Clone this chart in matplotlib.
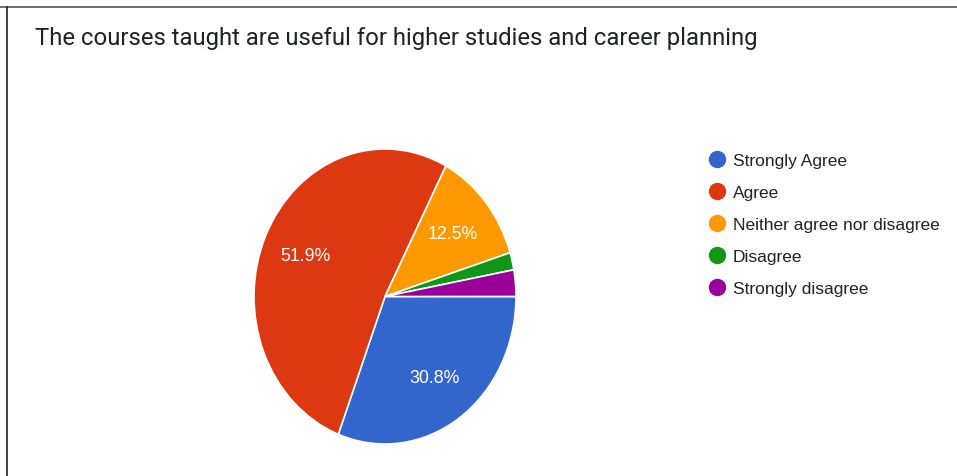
import matplotlib
matplotlib.use("Agg")
import matplotlib.pyplot as plt
from matplotlib.lines import Line2D

labels = ["Strongly Agree", "Agree", "Neither agree nor disagree", "Disagree", "Strongly disagree"]
shares = [30.8, 51.9, 12.5, 1.9, 2.9]
colors = ["#3366CC", "#DC3912", "#FF9900", "#109618", "#990099"]
title = "The courses taught are useful for higher studies and career planning"

W, H = 957, 477
fig = plt.figure(figsize=(W / 100, H / 100), dpi=100)

# pie is slightly squashed horizontally in the screenshot, so no equal aspect
ax = fig.add_axes([254 / W, 32 / H, 262 / W, 295 / H])
ax.pie(shares, colors=colors, startangle=0, counterclock=False,
       autopct=lambda p: f"{p:.1f}%" if p > 5 else "", pctdistance=0.67,
       wedgeprops=dict(edgecolor="white", linewidth=1.2),
       textprops=dict(color="white", fontsize=12.8, family="Liberation Sans"))
ax.set_aspect("auto")
ax.set_xlim(-1, 1)
ax.set_ylim(-1, 1)
ax.axis("off")

fig.text(35 / W, 1 - 38 / H, title, fontsize=17.2, family="Roboto", color="#202124",
         va="center", ha="left")

handles = [Line2D([], [], ls="none", marker="o", markersize=11.5, color=c) for c in colors]
fig.legend(handles, labels, loc="upper left", bbox_to_anchor=(707 / W, 1 - 154 / H),
           frameon=False, handletextpad=0.3, labelspacing=0.97, handlelength=1.2,
           prop=dict(family="Liberation Sans", size=12.5), labelcolor="#222222",
           borderaxespad=0, borderpad=0)

# screenshot frame: top and left edges only
fig.add_artist(Line2D([0, 1], [1 - 7.5 / H] * 2, transform=fig.transFigure, color="#555555", lw=1.2))
fig.add_artist(Line2D([7.5 / W] * 2, [0, 1 - 7.5 / H], transform=fig.transFigure, color="#222222", lw=1.2))

fig.savefig("out.png", dpi=100)
